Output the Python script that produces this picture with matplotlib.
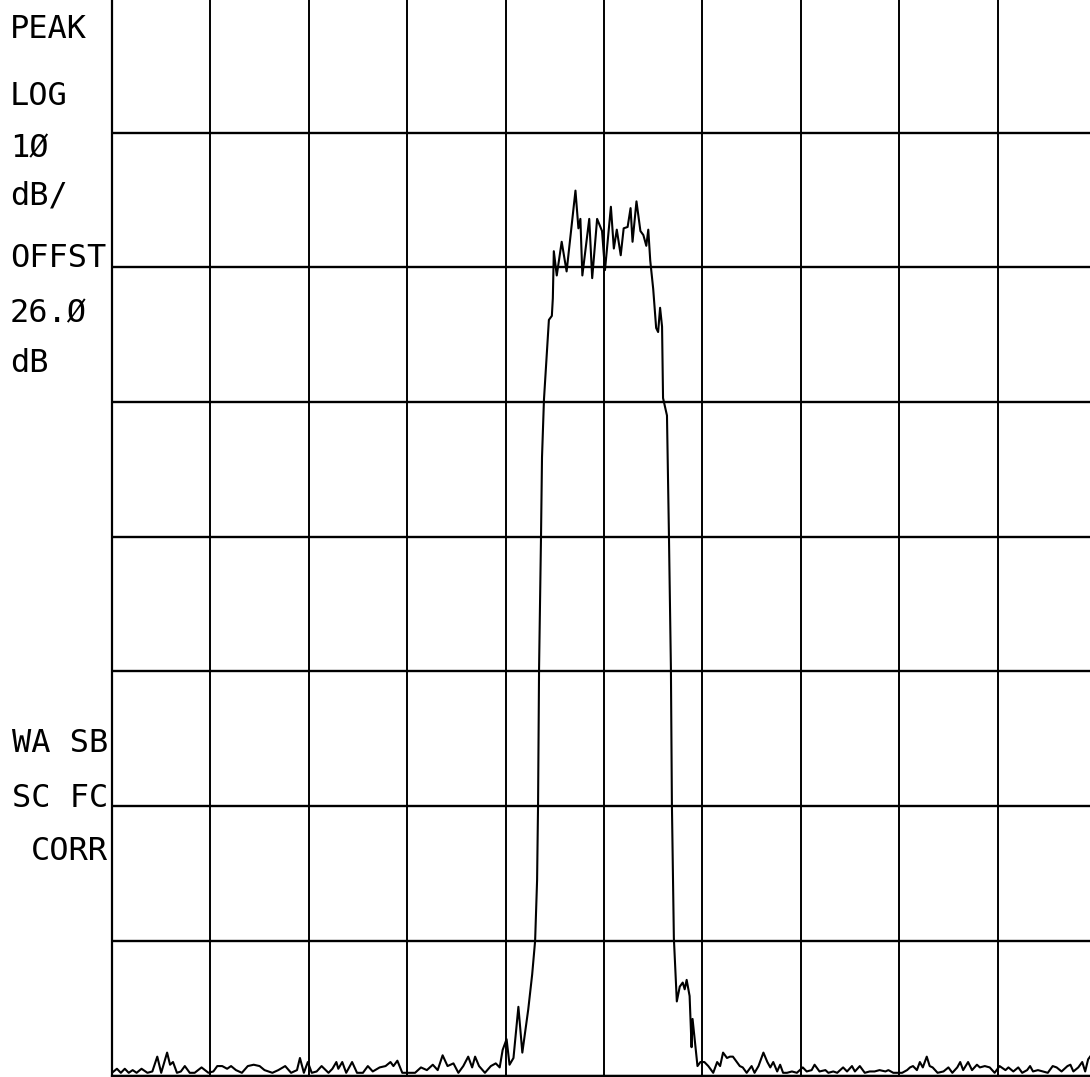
import matplotlib
matplotlib.use("Agg")
import matplotlib.pyplot as plt

# spectrum analyzer plot: 10 horizontal divisions, 10 dB/div vertical
# x in divisions (0..10), level in dB below top of screen
freq_div = [
    0.00, 0.05, 0.09, 0.13, 0.17, 0.21, 0.25, 0.30, 0.36, 0.41,
    0.46, 0.50, 0.52, 0.56, 0.59, 0.62, 0.66, 0.70, 0.74, 0.79,
    0.84, 0.91, 0.98, 1.03, 1.07, 1.12, 1.17, 1.21, 1.26, 1.32,
    1.38, 1.44, 1.50, 1.55, 1.63, 1.69, 1.76, 1.82, 1.88, 1.91,
    1.95, 1.99, 2.03, 2.08, 2.13, 2.20, 2.24, 2.28, 2.30, 2.34,
    2.38, 2.44, 2.49, 2.55, 2.60, 2.65, 2.72, 2.78, 2.83, 2.86,
    2.90, 2.95, 3.01, 3.08, 3.14, 3.20, 3.26, 3.31, 3.36, 3.41,
    3.47, 3.52, 3.57, 3.62, 3.66, 3.69, 3.73, 3.79, 3.85, 3.90,
    3.94, 3.97, 4.01, 4.04, 4.08, 4.13, 4.17, 4.23, 4.27, 4.30,
    4.32, 4.33, 4.34, 4.36, 4.37, 4.39, 4.42, 4.44, 4.47, 4.48,
    4.49, 4.52, 4.57, 4.62, 4.71, 4.74, 4.76, 4.78, 4.85, 4.88,
    4.93, 4.98, 5.01, 5.07, 5.10, 5.13, 5.17, 5.20, 5.24, 5.27,
    5.29, 5.33, 5.37, 5.40, 5.43, 5.45, 5.47, 5.50, 5.53, 5.55,
    5.57, 5.59, 5.60, 5.64, 5.66, 5.68, 5.69, 5.71, 5.74, 5.77,
    5.80, 5.82, 5.84, 5.87, 5.89, 5.90, 5.95, 5.98, 6.02, 6.06,
    6.11, 6.15, 6.18, 6.21, 6.25, 6.28, 6.31, 6.35, 6.38, 6.41,
    6.45, 6.50, 6.53, 6.57, 6.62, 6.66, 6.69, 6.72, 6.76, 6.79,
    6.82, 6.86, 6.91, 6.96, 7.02, 7.06, 7.11, 7.14, 7.19, 7.25,
    7.28, 7.33, 7.37, 7.43, 7.47, 7.52, 7.55, 7.60, 7.65, 7.70,
    7.75, 7.80, 7.86, 7.89, 7.94, 8.03, 8.08, 8.11, 8.14, 8.18,
    8.21, 8.24, 8.28, 8.31, 8.34, 8.39, 8.45, 8.50, 8.54, 8.59,
    8.62, 8.65, 8.70, 8.74, 8.79, 8.82, 8.87, 8.92, 8.97, 9.02,
    9.08, 9.11, 9.16, 9.21, 9.25, 9.30, 9.33, 9.36, 9.41, 9.46,
    9.51, 9.56, 9.60, 9.65, 9.71, 9.74, 9.77, 9.82, 9.86, 9.89,
    9.92, 9.96, 10.0,
]
level_db = [
    -79.8, -79.5, -79.8, -79.5, -79.8, -79.6, -79.8, -79.5, -79.8, -79.7,
    -78.6, -79.8, -79.3, -78.3, -79.2, -79.0, -79.8, -79.7, -79.3, -79.8,
    -79.8, -79.4, -79.8, -79.7, -79.3, -79.3, -79.5, -79.3, -79.6, -79.8,
    -79.3, -79.2, -79.3, -79.6, -79.8, -79.6, -79.3, -79.8, -79.6, -78.7,
    -79.8, -79.0, -79.8, -79.7, -79.3, -79.8, -79.5, -79.0, -79.5, -79.0,
    -79.8, -79.0, -79.8, -79.8, -79.3, -79.7, -79.4, -79.3, -79.0, -79.3,
    -78.9, -79.8, -79.8, -79.8, -79.4, -79.6, -79.2, -79.6, -78.5, -79.3,
    -79.1, -79.8, -79.3, -78.6, -79.4, -78.6, -79.3, -79.8, -79.3, -79.1,
    -79.4, -78.1, -77.3, -79.2, -78.7, -74.9, -78.3, -75.1, -72.5, -70.0,
    -65.5, -59.8, -49.8, -39.9, -34.1, -29.8, -26.3, -23.9, -23.6, -22.3,
    -18.8, -20.6, -18.1, -20.3, -14.3, -17.1, -16.4, -20.6, -16.4, -20.8,
    -16.4, -17.3, -20.2, -15.5, -18.6, -17.2, -19.1, -17.1, -17.0, -15.6,
    -18.1, -15.1, -17.3, -17.6, -18.4, -17.2, -19.5, -21.6, -24.5, -24.8,
    -23.0, -24.4, -29.7, -31.0, -39.9, -49.8, -59.8, -69.8, -74.5, -73.4,
    -73.1, -73.6, -72.9, -74.1, -77.9, -75.8, -79.3, -79.0, -79.0, -79.3,
    -79.8, -79.0, -79.3, -78.3, -78.7, -78.6, -78.6, -79.0, -79.3, -79.4,
    -79.8, -79.3, -79.8, -79.3, -78.3, -79.0, -79.4, -79.0, -79.7, -79.2,
    -79.8, -79.8, -79.7, -79.8, -79.4, -79.7, -79.6, -79.2, -79.7, -79.6,
    -79.8, -79.7, -79.8, -79.4, -79.7, -79.3, -79.7, -79.3, -79.8, -79.7,
    -79.7, -79.6, -79.7, -79.6, -79.8, -79.8, -79.6, -79.4, -79.3, -79.6,
    -79.0, -79.4, -78.6, -79.3, -79.4, -79.8, -79.7, -79.4, -79.8, -79.4,
    -79.0, -79.6, -79.0, -79.6, -79.2, -79.4, -79.3, -79.4, -79.8, -79.3,
    -79.6, -79.4, -79.7, -79.4, -79.8, -79.6, -79.3, -79.7, -79.6, -79.7,
    -79.8, -79.3, -79.4, -79.7, -79.3, -79.2, -79.7, -79.4, -79.0, -79.7,
    -78.8, -78.4, -78.0,
]

# annotation blocks down the left margin
top_labels = ["PEAK", "LOG", "1Ø", "dB/", "OFFST", "26.Ø", "dB"]
top_baselines = [38, 105, 157, 205, 267, 322, 372]
bottom_labels = ["WA SB", "SC FC", "CORR"]
bottom_baselines = [752, 807, 860]

W, H = 1090, 1077
fig = plt.figure(figsize=(W / 100, H / 100), dpi=100)
# graticule runs slightly past the right and top edges of the scan
ax = fig.add_axes([112 / W, 1.5 / H, 984 / W, 1077.5 / H])

ax.plot(freq_div, level_db, color="black", lw=1.5, solid_joinstyle="round")

ax.set_xlim(0, 10)
ax.set_ylim(-80, 0)
ax.set_xticks(range(11))
ax.set_yticks(range(-80, 1, 10))
ax.tick_params(length=0, labelbottom=False, labelleft=False)
ax.xaxis.grid(True, color="black", lw=1.4)
ax.yaxis.grid(True, color="black", lw=1.7)
for sp in ax.spines.values():
    sp.set_linewidth(1.6)

font = dict(family="DejaVu Sans Mono", fontsize=23, color="black")
for txt, yb in zip(top_labels, top_baselines):
    fig.text(10 / W, 1 - yb / H, txt, ha="left", va="baseline", **font)
for txt, yb in zip(bottom_labels, bottom_baselines):
    fig.text(108 / W, 1 - yb / H, txt, ha="right", va="baseline", **font)

fig.savefig("out.png", dpi=100, facecolor="white")
